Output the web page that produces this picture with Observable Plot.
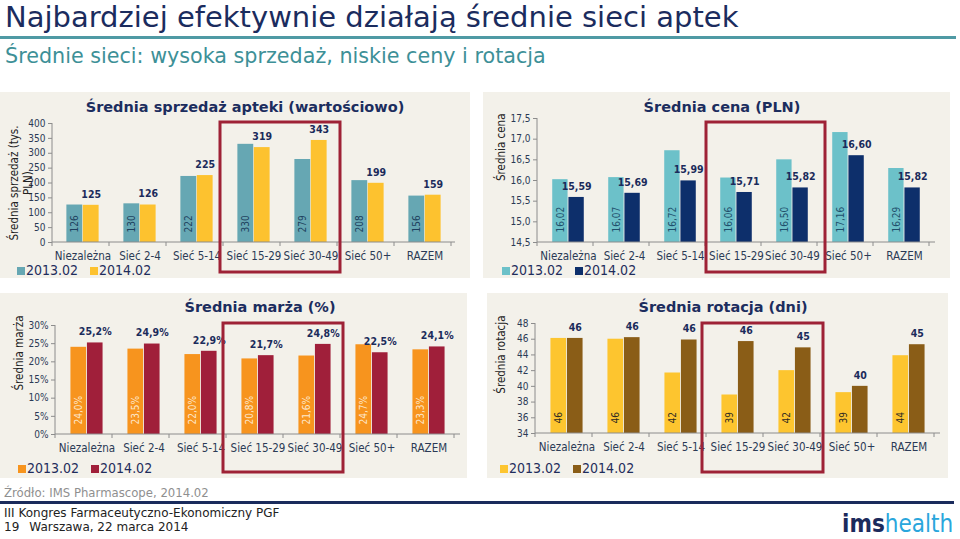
<!DOCTYPE html>
<html lang="pl">
<head>
<meta charset="utf-8">
<script src="https://cdn.jsdelivr.net/npm/d3@7"></script>
<script src="https://cdn.jsdelivr.net/npm/@observablehq/plot@0.6"></script>
<style>
html,body{margin:0;padding:0;background:#fff;}
#slide{position:relative;width:960px;height:539px;overflow:hidden;font-family:"DejaVu Sans Condensed","DejaVu Sans",sans-serif;}
.abs{position:absolute;white-space:nowrap;}
.reg{font-family:"DejaVu Sans",sans-serif;}
.panel{position:absolute;background:#f3f1ea;}
.panel svg{position:absolute;left:0;top:0;}
.ptitle{position:absolute;font-family:"DejaVu Sans",sans-serif;font-weight:bold;font-size:14.5px;color:#1c2d5e;transform:translate(-50%,-50%);white-space:nowrap;}
.legend{position:absolute;display:flex;align-items:center;font-size:14px;color:#1f2d5c;transform:translateY(-50%);white-space:nowrap;}
.legend .item{display:flex;align-items:center;margin-right:12px;}
.legend .sw{display:inline-block;width:8px;height:8px;margin-right:1px;margin-top:2px;}
</style>
</head>
<body>
<div id="slide">
  <div class="abs reg" style="left:5px;top:1px;font-size:29px;color:#1b2c5e;line-height:33px;">Najbardziej efektywnie działają średnie sieci aptek</div>
  <div class="abs" style="left:0;top:36px;width:956px;height:3px;background:#4f9aa4;"></div>
  <div class="abs reg" style="left:5px;top:44px;font-size:20.7px;color:#3d9097;line-height:24px;">Średnie sieci: wysoka sprzedaż, niskie ceny i rotacja</div>
  <div class="abs reg" style="left:4px;top:485px;font-size:11.7px;color:#8f8f8f;line-height:16px;">Źródło: IMS Pharmascope, 2014.02</div>
  <div class="abs" style="left:0;top:501px;width:954px;height:3px;background:#1a2b5c;"></div>
  <div class="abs reg" style="left:4px;top:506px;font-size:12px;color:#222;line-height:15px;">III Kongres Farmaceutyczno-Ekonomiczny PGF</div>
  <div class="abs reg" style="left:4px;top:520px;font-size:12px;color:#222;line-height:15px;">19<span style="display:inline-block;width:10px"></span>Warszawa, 22 marca 2014</div>
  <div class="abs" style="left:842px;top:509px;font-size:24px;line-height:30px;"><span style="font-weight:bold;color:#1b2a5c">ims</span><span style="color:#2aa6dc">health</span></div>
</div>
<script>
const FONT = '"DejaVu Sans Condensed","DejaVu Sans",sans-serif';

const categories = ["Niezależna", "Sieć 2-4", "Sieć 5-14", "Sieć 15-29", "Sieć 30-49", "Sieć 50+", "RAZEM"];
const seriesNames = ["2013.02", "2014.02"];
const highlighted = ["Sieć 15-29", "Sieć 30-49"];

const sales2013 = [126, 130, 222, 330, 279, 208, 156];
const sales2014 = [125, 126, 225, 319, 343, 199, 159];
const salesTicks = [0, 50, 100, 150, 200, 250, 300, 350, 400];

const price2013 = [16.02, 16.07, 16.72, 16.06, 16.50, 17.16, 16.29];
const price2014 = [15.59, 15.69, 15.99, 15.71, 15.82, 16.60, 15.82];
const priceTicks = [14.5, 15.0, 15.5, 16.0, 16.5, 17.0, 17.5];

const margin2013 = [24.0, 23.5, 22.0, 20.8, 21.6, 24.7, 23.3];
const margin2014 = [25.2, 24.9, 22.9, 21.7, 24.8, 22.5, 24.1];
const marginTicks = [0, 5, 10, 15, 20, 25, 30];

const rotation2013 = [46.1, 46.0, 41.7, 38.9, 42.0, 39.2, 43.9];
const rotation2014 = [46.1, 46.2, 45.9, 45.7, 44.9, 40.0, 45.3];
const rotationTicks = [34, 36, 38, 40, 42, 44, 46, 48];

const comma = s => s.replace(".", ",");

const panels = [
  {left: 0, top: 92, width: 470, height: 186, mL: 52, mR: 15, mT: 31, mB: 36,
   title: "Średnia sprzedaż apteki (wartościowo)", tx: 245, ty: 15,
   yLabel: "Średnia sprzedaż (tys.\nPLN)", yAnchor: "left", yText: "middle", ydx: -32, ydy: 0,
   v1: sales2013, v2: sales2014, ticks: salesTicks,
   tickFmt: d3.format("d"), labFmt: d3.format(".0f"),
   c1: "#66a7b3", c2: "#fdc22f", inner: "#1d3f5e", legendX: 17, legendY: 178, hl: [-3, 3]},
  {left: 483, top: 92, width: 467, height: 186, mL: 54, mR: 15, mT: 26, mB: 36,
   title: "Średnia cena (PLN)", tx: 239, ty: 15,
   yLabel: "Średnia cena", yAnchor: "top-left", yText: "end", ydx: -42, ydy: -5,
   v1: price2013, v2: price2014, ticks: priceTicks,
   tickFmt: d => comma(d3.format(".1f")(d)), labFmt: d => comma(d3.format(".2f")(d)),
   c1: "#6cc1c9", c2: "#0d2f6b", inner: "#1f4f6c", legendX: 19, legendY: 178, hl: [1, 8]},
  {left: 0, top: 293, width: 467, height: 185, mL: 55, mR: 7, mT: 32, mB: 44,
   title: "Średnia marża (%)", tx: 260, ty: 14,
   yLabel: "Średnia marża", yAnchor: "top-left", yText: "end", ydx: -42, ydy: -10,
   v1: margin2013, v2: margin2014, ticks: marginTicks,
   tickFmt: d => d + "%", labFmt: d => comma(d3.format(".1f")(d)) + "%",
   c1: "#f7941e", c2: "#a01f3a", inner: "#fde8cc", legendX: 18, legendY: 175, hl: [-3, 3]},
  {left: 487, top: 293, width: 461, height: 185, mL: 48, mR: 8, mT: 30, mB: 45,
   title: "Średnia rotacja (dni)", tx: 236, ty: 14,
   yLabel: "Średnia rotacja", yAnchor: "top-left", yText: "end", ydx: -40, ydy: -8,
   v1: rotation2013, v2: rotation2014, ticks: rotationTicks,
   tickFmt: d3.format("d"), labFmt: d3.format(".0f"),
   c1: "#fdc52f", c2: "#8a5d17", inner: "#2e2a22", legendX: 13, legendY: 175, hl: [-4, 3]}
];

const slide = document.getElementById("slide");

for (const p of panels) {
  const panel = document.createElement("div");
  panel.className = "panel";
  Object.assign(panel.style, {left: p.left + "px", top: p.top + "px", width: p.width + "px", height: p.height + "px"});
  slide.appendChild(panel);

  const step = (p.width - p.mL - p.mR) / categories.length;
  const barW = step * 0.285;
  const yMin = p.ticks[0], yMax = p.ticks[p.ticks.length - 1];
  const rows1 = categories.map((c, i) => ({cat: c, v: p.v1[i]}));
  const rows2 = categories.map((c, i) => ({cat: c, v: p.v2[i]}));

  const plot = Plot.plot({
    width: p.width, height: p.height,
    marginLeft: p.mL, marginRight: p.mR, marginTop: p.mT, marginBottom: p.mB,
    style: {background: "transparent", fontFamily: FONT, fontSize: "10px", color: "#2b3a55", overflow: "visible"},
    x: {domain: categories, padding: 0},
    y: {domain: [yMin, yMax]},
    marks: [
      Plot.barY(rows1, {x: "cat", y1: yMin, y2: "v", fill: p.c1, insetLeft: step / 2 - barW, insetRight: step / 2}),
      Plot.barY(rows2, {x: "cat", y1: yMin, y2: "v", fill: p.c2, insetLeft: step / 2, insetRight: step / 2 - barW}),
      Plot.text(rows1, {x: "cat", y: yMin, text: d => p.labFmt(d.v), rotate: -90, textAnchor: "start",
        dx: -barW / 2, dy: -10, fill: p.inner, fontSize: 10}),
      Plot.text(rows2, {x: "cat", y: "v", text: d => p.labFmt(d.v), dx: barW / 2, dy: -11,
        fill: "#1b2b5b", fontWeight: "bold", fontSize: 10.5}),
      Plot.axisY({ticks: p.ticks, tickFormat: p.tickFmt, tickSize: 4, tickPadding: 3, fontSize: 10, label: null, stroke: "#8c8c8c"}),
      Plot.axisX({tickSize: 0, tickPadding: 9, fontSize: 11.5, label: null}),
      Plot.text([p.yLabel], {frameAnchor: p.yAnchor, text: d => d, rotate: -90, textAnchor: p.yText,
        lineHeight: 1.2, dx: p.ydx, dy: p.ydy, fontSize: 11.5, fill: "#222"})
    ]
  });
  panel.appendChild(plot);

  // axis lines, category separators and highlight frame from the plot's scales
  const sx = plot.scale("x"), sy = plot.scale("y");
  const x0 = sx.range[0], x1 = sx.range[1];
  const st = sx.step || (x1 - x0) / categories.length;
  const bw = sx.bandwidth || st;
  const yb = sy.range[0], yt = sy.range[1];
  const svg = d3.select(plot);
  const g = svg.append("g").attr("stroke", "#8c8c8c").attr("fill", "none");
  g.append("line").attr("x1", x0).attr("x2", x0).attr("y1", yb).attr("y2", yt);
  g.append("line").attr("x1", x0).attr("x2", x1).attr("y1", yb).attr("y2", yb);
  for (let i = 0; i <= categories.length; i++) {
    const x = x0 + i * st;
    g.append("line").attr("x1", x).attr("x2", x).attr("y1", yb).attr("y2", yb + 4);
  }
  const i0 = categories.indexOf(highlighted[0]), i1 = categories.indexOf(highlighted[1]);
  const hx0 = x0 + i0 * st + p.hl[0], hx1 = x0 + i1 * st + bw + p.hl[1];
  svg.append("rect").attr("x", hx0).attr("y", 30).attr("width", hx1 - hx0).attr("height", p.height - 36)
    .attr("fill", "none").attr("stroke", "#9e2236").attr("stroke-width", 3);

  const t = document.createElement("div");
  t.className = "ptitle";
  t.textContent = p.title;
  Object.assign(t.style, {left: p.tx + "px", top: p.ty + "px"});
  panel.appendChild(t);

  const lg = document.createElement("div");
  lg.className = "legend";
  Object.assign(lg.style, {left: p.legendX + "px", top: p.legendY + "px"});
  [p.c1, p.c2].forEach((c, i) => {
    const it = document.createElement("span");
    it.className = "item";
    const sw = document.createElement("span");
    sw.className = "sw";
    sw.style.background = c;
    it.appendChild(sw);
    it.appendChild(document.createTextNode(seriesNames[i]));
    lg.appendChild(it);
  });
  panel.appendChild(lg);
}
</script>
</body>
</html>
